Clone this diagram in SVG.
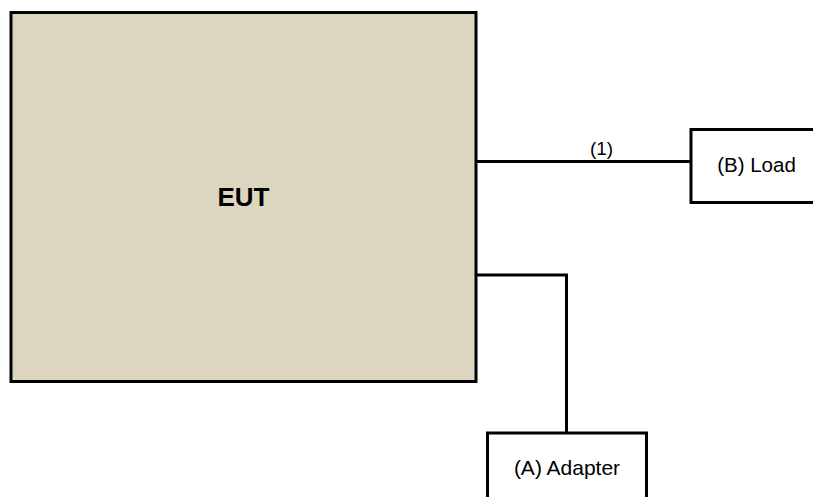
<svg xmlns="http://www.w3.org/2000/svg" width="813" height="497" viewBox="0 0 813 497">
<style>
text{font-family:"Liberation Sans",Arial,sans-serif;fill:#000}
.box{fill:#fff;stroke:#000;stroke-width:3}
.wire{fill:none;stroke:#000;stroke-width:3}
</style>
<rect width="813" height="497" fill="#fff"/>
<g id="eut">
<rect x="11" y="12.5" width="465" height="369" fill="#dcd6c1" stroke="#000" stroke-width="3"/>
<text x="243.5" y="206" font-size="26" font-weight="bold" text-anchor="middle">EUT</text>
</g>
<g id="load">
<rect class="box" x="691" y="129.5" width="130" height="73"/>
<text x="756.5" y="171.5" font-size="20.5" text-anchor="middle">(B) Load</text>
</g>
<g id="adapter">
<rect class="box" x="487.5" y="433" width="159" height="80"/>
<text x="567" y="475" font-size="21" text-anchor="middle">(A) Adapter</text>
</g>
<g id="connectors">
<line class="wire" x1="476" y1="161.5" x2="691" y2="161.5"/>
<text x="601.5" y="155" font-size="19" text-anchor="middle">(1)</text>
<polyline class="wire" points="476,275 566.5,275 566.5,433"/>
</g>
</svg>
